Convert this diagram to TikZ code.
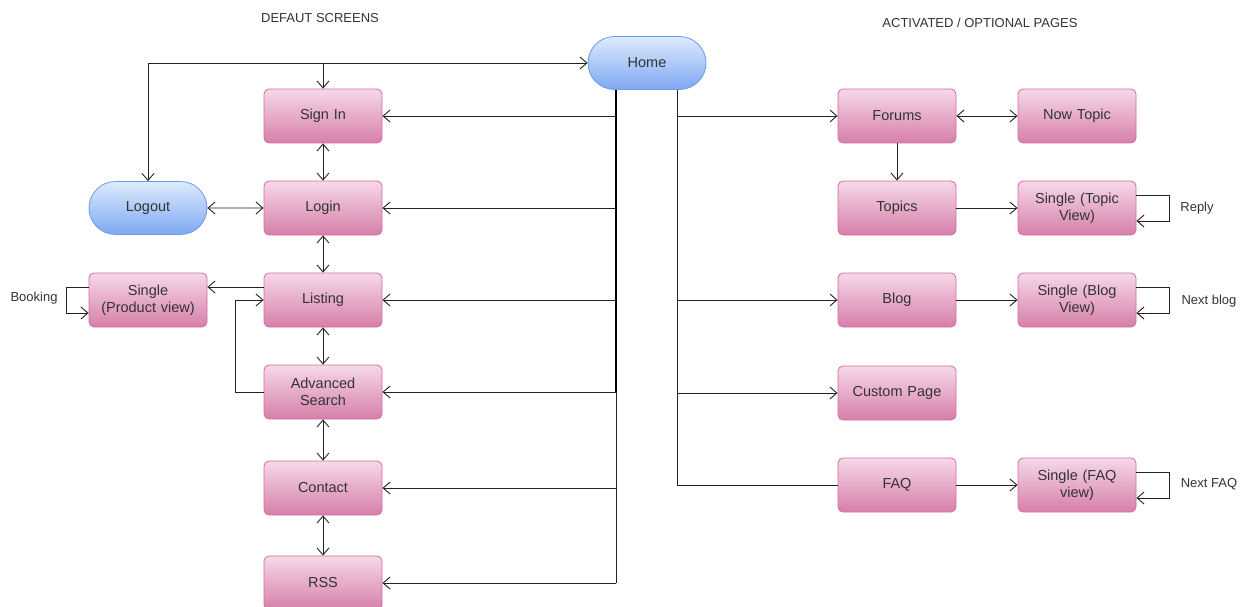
\documentclass[tikz,border=0pt]{standalone}
\usepackage{fontspec}
\setmainfont{Liberation Sans}
\usetikzlibrary{arrows.meta,shapes.misc,calc}
\definecolor{pinktop}{HTML}{F6D8E8}
\definecolor{pinkbot}{HTML}{D67FAA}
\definecolor{pinkline}{HTML}{D56B9E}
\definecolor{bluetop}{HTML}{DDEBFD}
\definecolor{bluebot}{HTML}{7EA8F2}
\definecolor{blueline}{HTML}{6C9BE6}
\definecolor{ink}{HTML}{222222}
\definecolor{txt}{HTML}{333333}
\tikzset{
  pinkbox/.style={rectangle, rounded corners=5pt, minimum width=118pt, minimum height=54pt,
    draw=pinkline, line width=0.8pt, top color=pinktop, bottom color=pinkbot, text=txt,
    font=\fontsize{14.5}{16.5}\selectfont, align=center, text width=110pt, inner sep=0pt},
  bluepill/.style={rounded rectangle, minimum width=118pt, minimum height=53pt,
    draw=blueline, line width=0.8pt, top color=bluetop, bottom color=bluebot, text=txt,
    font=\fontsize{14.5}{16.5}\selectfont, inner sep=0pt},
  lbl/.style={text=txt, font=\fontsize{13}{15}\selectfont, inner sep=0pt},
  conn/.style={draw=ink, line width=0.9pt},
  arr/.style={conn, -{Straight Barb[length=7pt,width=12pt,line width=0.9pt]}},
  darr/.style={conn, {Straight Barb[length=7pt,width=12pt,line width=0.9pt]}-{Straight Barb[length=7pt,width=12pt,line width=0.9pt]}},
}
\begin{document}
\begin{tikzpicture}[x=1pt,y=-1pt]
\useasboundingbox (0,0) rectangle (1245,607);
% headers
\node[lbl] (h1) at (320,18) {DEFAUT SCREENS};
\node[lbl] (h2) at (980,23) {ACTIVATED / OPTIONAL PAGES};
% left column
\node[bluepill] (home) at (647,63) {Home};
\node[pinkbox] (signin) at (323,116) {Sign In};
\node[pinkbox] (login) at (323,208) {Login};
\node[pinkbox] (listing) at (323,300) {Listing};
\node[pinkbox] (adv) at (323,392) {Advanced\\Search};
\node[pinkbox] (contact) at (323,488) {Contact};
\node[pinkbox] (rss) at (323,583) {RSS};
\node[bluepill] (logout) at (148,208) {Logout};
\node[pinkbox] (product) at (148,300) {Single\\(Product view)};
\node[lbl] (booking) at (34,298) {Booking};
% right column
\node[pinkbox] (forums) at (897,116) {Forums};
\node[pinkbox] (newtopic) at (1077,116) {Now Topic};
\node[pinkbox] (topics) at (897,208) {Topics};
\node[pinkbox] (stopic) at (1077,208) {Single (Topic\\View)};
\node[pinkbox] (blog) at (897,300) {Blog};
\node[pinkbox] (sblog) at (1077,300) {Single (Blog\\View)};
\node[pinkbox] (custom) at (897,393) {Custom Page};
\node[pinkbox] (faq) at (897,485) {FAQ};
\node[pinkbox] (sfaq) at (1077,485) {Single (FAQ\\view)};
\node[lbl] (reply) at (1197,208) {Reply};
\node[lbl] (nextblog) at (1209,301) {Next blog};
\node[lbl] (nextfaq) at (1209,484) {Next FAQ};
% coordinates for trunks
\coordinate (ta) at ($(home.south)+(-31,0)$);
\coordinate (tc) at ($(home.south)+(30,0)$);
\coordinate (tm) at (ta |- adv.east);
\coordinate (tz) at (ta |- rss.east);
\coordinate (tf) at (tc |- faq.west);
% top connectors
\draw[darr] (logout.north) |- (home.west);
\draw[arr] (signin.north |- home.west) -- (signin.north);
% left trunk
\draw[draw=black, line width=2.6pt] (ta) -- (tm);
\draw[conn] (tm) -- (tz);
\draw[arr] (ta |- signin.east) -- (signin.east);
\draw[arr] (ta |- login.east) -- (login.east);
\draw[arr] (ta |- listing.east) -- (listing.east);
\draw[arr] (tm) -- (adv.east);
\draw[arr] (ta |- contact.east) -- (contact.east);
\draw[arr] (tz) -- (rss.east);
% vertical chain
\draw[darr] (signin) -- (login);
\draw[darr] (login) -- (listing);
\draw[darr] (listing) -- (adv);
\draw[darr] (adv) -- (contact);
\draw[darr] (contact) -- (rss);
\draw[darr] (logout) -- (login);
% listing / product
\draw[arr] ([yshift=13pt]listing.west) -- ([yshift=13pt]product.east);
\draw[arr] (adv.west) -- ++(-28,0) |- (listing.west);
\draw[arr] ([yshift=13pt]product.west) -- ++(-22,0) |- ([yshift=-13pt]product.west);
% right trunk
\draw[conn] (tc) -- (tf);
\draw[arr] (tc |- forums.west) -- (forums.west);
\draw[arr] (tc |- blog.west) -- (blog.west);
\draw[arr] (tc |- custom.west) -- (custom.west);
\draw[conn] (tf) -- (faq.west);
% right side
\draw[darr] (forums) -- (newtopic);
\draw[arr] (forums) -- (topics);
\draw[arr] (topics) -- (stopic);
\draw[arr] (blog) -- (sblog);
\draw[arr] (faq) -- (sfaq);
\draw[arr] ([yshift=13pt]stopic.east) -- ++(33,0) |- ([yshift=-13pt]stopic.east);
\draw[arr] ([yshift=13pt]sblog.east) -- ++(33,0) |- ([yshift=-13pt]sblog.east);
\draw[arr] ([yshift=13pt]sfaq.east) -- ++(33,0) |- ([yshift=-13pt]sfaq.east);
\end{tikzpicture}
\end{document}
